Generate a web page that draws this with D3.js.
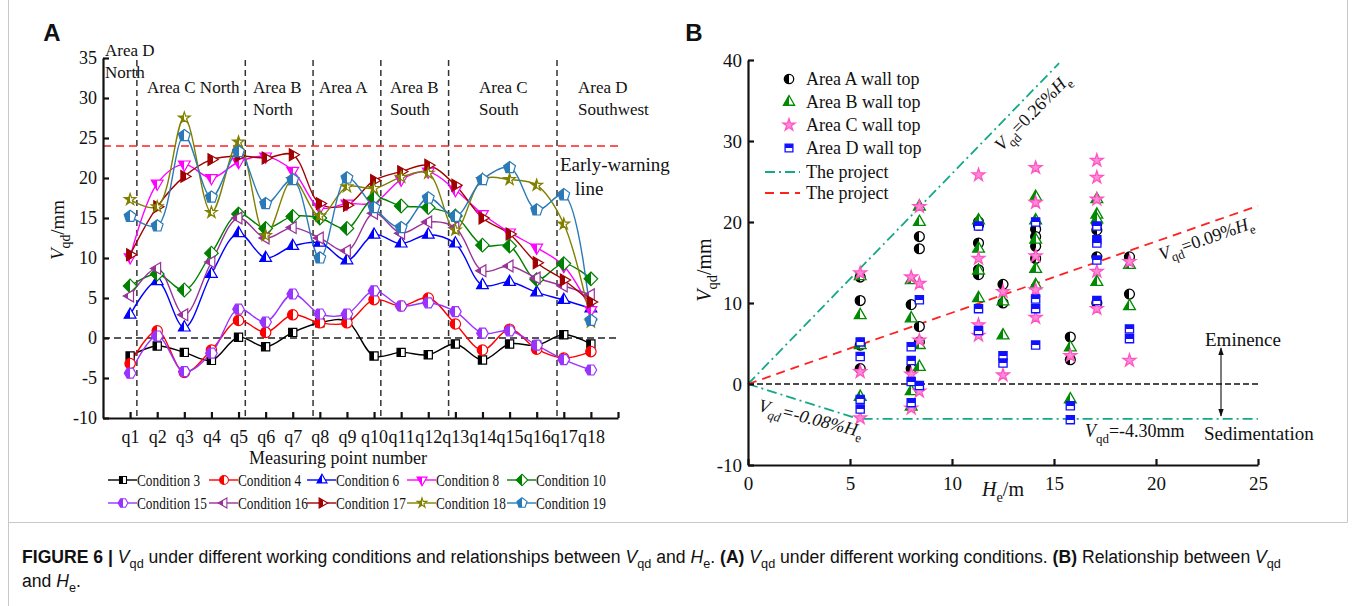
<!DOCTYPE html>
<html>
<head>
<meta charset="utf-8">
<script src="https://cdn.jsdelivr.net/npm/d3@7"></script>
<style>
  body { margin: 0; background: #fff; }
  svg text { font-family: "Liberation Serif", "Times New Roman", serif; fill: #111; }
  svg text.sans, .cap text { font-family: "Liberation Sans", Arial, sans-serif; }
</style>
</head>
<body>
<svg id="fig" width="1356" height="606"></svg>
<script>
// ---------- Panel A data ----------
const qLabels = ["q1","q2","q3","q4","q5","q6","q7","q8","q9","q10","q11","q12","q13","q14","q15","q16","q17","q18"];
const cond3  = [-2.25,-1.0,-1.8,-2.8,0.1,-1.1,0.7,1.9,2.1,-2.25,-1.8,-2.1,-0.75,-2.75,-0.75,-0.9,0.4,-0.75];
const cond4  = [-3.2,0.9,-4.3,-1.5,2.2,0.7,2.9,1.9,1.9,4.8,4.0,5.0,1.75,-1.5,1.1,-1.4,-2.5,-1.7];
const cond6  = [2.9,7.1,1.3,8.0,13.1,10.0,11.5,11.9,9.7,12.9,11.8,12.9,11.8,6.6,7.0,5.7,4.75,3.7];
const cond8  = [10.1,19.3,21.7,20.0,22.0,22.7,20.9,16.3,16.8,16.9,19.8,20.8,18.5,15.5,13.2,11.3,9.0,3.5];
const cond10 = [6.5,8.0,6.0,10.6,15.5,13.7,15.2,15.0,13.7,17.5,16.5,16.3,15.25,11.6,11.5,7.3,9.3,7.4];
const cond15 = [-4.4,0.25,-4.2,-1.9,3.6,2.0,5.5,3.0,3.0,5.9,4.0,4.4,3.3,0.6,0.9,-0.9,-2.7,-4.0];
const cond16 = [5.25,8.7,2.9,9.5,15.0,12.5,13.8,12.5,10.9,15.6,13.1,14.5,13.8,8.4,9.0,7.5,6.5,5.4];
const cond17 = [10.4,16.4,20.2,22.3,22.75,22.5,22.9,16.8,16.6,19.7,20.8,21.6,19.1,15.0,13.0,9.4,7.25,4.5];
const cond18 = [17.3,16.4,27.5,15.7,24.5,12.8,19.8,15.25,18.9,18.7,20.1,20.6,13.5,19.8,19.8,19.1,14.25,2.0];
const cond19 = [15.2,14.0,25.3,17.6,23.3,16.8,19.8,10.0,20.0,16.3,13.8,17.5,15.2,19.8,21.3,16.0,17.9,2.2];

const seriesNames  = ["Condition 3","Condition 4","Condition 6","Condition 8","Condition 10",
                      "Condition 15","Condition 16","Condition 17","Condition 18","Condition 19"];
const seriesValues = [cond3, cond4, cond6, cond8, cond10, cond15, cond16, cond17, cond18, cond19];
const seriesColors = ["#000000","#ff0000","#0000ff","#ff00ff","#008000",
                      "#9933ff","#993399","#a00000","#808000","#2a7ab9"];
const seriesShapes = ["square","circle","triUp","triDown","diamond",
                      "hexagon","triLeft","triRight","star","pentagon"];

const dividerPos = [1.25, 5.25, 7.75, 10.25, 12.75, 16.75];
const areaLabels = [["Area D","North"],["Area C North"],["Area B","North"],["Area A"],
                    ["Area B","South"],["Area C","South"],["Area D","Southwest"]];
const warningLevel = 24;

// ---------- Panel B data ----------
const areaA = [[5.5,10.3],[5.5,1.9],[5.5,4.8],[5.5,13.2],
  [8.0,9.8],[8.0,1.9],[8.4,18.2],[8.4,16.7],[8.4,7.1],[8.4,5.2],
  [11.3,20.0],[11.3,17.4],[11.3,14.1],[11.3,13.5],[11.3,19.6],
  [12.5,12.3],[12.5,10.0],
  [14.1,19.1],[14.1,17.0],[14.1,15.5],[14.1,18.2],
  [15.8,5.8],[15.8,3.0],
  [17.1,19.8],[17.1,19.0],[17.1,15.7],[17.1,10.0],
  [18.7,15.7],[18.7,11.1]];
const areaB = [[5.5,13.3],[5.5,8.5],[5.5,4.8],[5.5,-1.6],
  [8.0,12.8],[8.0,8.1],[8.0,-0.9],[8.0,-2.8],
  [8.4,21.9],[8.4,20.0],[8.4,4.8],[8.4,2.1],
  [11.3,20.2],[11.3,16.7],[11.3,14.0],[11.3,10.6],
  [12.5,10.2],[12.5,6.0],
  [14.1,23.1],[14.1,20.2],[14.1,17.8],[14.1,14.2],[14.1,12.2],
  [15.8,4.5],[15.8,-1.9],
  [17.1,22.8],[17.1,20.9],[17.1,12.6],[17.1,20.3],
  [18.7,14.7],[18.7,9.6]];
const areaC = [[5.5,13.7],[5.5,1.5],[5.5,-4.2],
  [8.0,13.2],[8.0,-3.0],[8.0,1.2],
  [8.4,21.9],[8.4,12.4],[8.4,5.4],[8.4,-0.9],
  [11.3,25.8],[11.3,15.5],[11.3,7.3],[11.3,6.0],
  [12.5,11.4],[12.5,1.1],
  [14.1,26.7],[14.1,22.4],[14.1,15.8],[14.1,11.6],[14.1,8.2],
  [15.8,3.5],
  [17.1,27.6],[17.1,25.5],[17.1,22.8],[17.1,13.9],[17.1,9.3],
  [18.7,15.1],[18.7,2.9]];
const areaD = [[5.5,5.2],[5.5,3.4],[5.5,-1.9],[5.5,-3.1],
  [8.0,4.6],[8.0,2.9],[8.0,0.3],[8.0,-2.3],
  [8.4,10.4],[8.4,-0.2],
  [11.3,19.5],[11.3,9.3],[11.3,6.6],
  [12.5,3.5],[12.5,2.6],
  [14.1,20.0],[14.1,10.5],[14.1,9.3],[14.1,4.8],
  [15.8,-2.7],[15.8,-4.4],
  [17.1,19.5],[17.1,17.8],[17.1,17.4],[17.1,15.3],[17.1,10.3],
  [18.7,6.8],[18.7,5.6]];
const areaNames = ["Area A wall top","Area B wall top","Area C wall top","Area D wall top"];

// envelope lines
const upperLine = [[0,0],[15.25,39.6]];        // 0.26% He
const trendLine = [[0,0],[25,22]];             // 0.09% He
const lowerLine = [[0,0],[5.4,-4.3],[25,-4.3]]; // -0.08% He, then -4.30 mm

const svg = d3.select("#fig");
const defs = svg.append("defs");

// ---------- helpers ----------
function poly(n, r, startDeg) {
  let pts = d3.range(n).map(i => {
    let a = (startDeg + i * 360 / n) * Math.PI / 180;
    return [r * Math.cos(a), r * Math.sin(a)];
  });
  return "M" + pts.map(p => p[0].toFixed(2) + "," + p[1].toFixed(2)).join("L") + "Z";
}
function shapePath(shape, s) {
  s = s || 1;
  switch (shape) {
    case "square":   return poly(4, 5.8 * s, 45);
    case "circle":   return d3.symbol(d3.symbolCircle, 85 * s * s)();
    case "triUp":    return poly(3, 6.8 * s, -90);
    case "triDown":  return poly(3, 6.8 * s, 90);
    case "diamond":  return poly(4, 6.8 * s, -90);
    case "hexagon":  return poly(6, 5.8 * s, 0);
    case "triLeft":  return poly(3, 6.8 * s, 180);
    case "triRight": return poly(3, 6.8 * s, 0);
    case "star":     return d3.symbol(d3.symbolStar, 42 * s * s)();
    case "pentagon": return poly(5, 6.2 * s, -90);
  }
}
function halfGrad(id, color, vertical) {
  let g = defs.append("linearGradient").attr("id", id)
    .attr("x1", 0).attr("y1", 0)
    .attr("x2", vertical ? 0 : 1).attr("y2", vertical ? 1 : 0);
  g.append("stop").attr("offset", "0%").attr("stop-color", color);
  g.append("stop").attr("offset", "50%").attr("stop-color", color);
  g.append("stop").attr("offset", "50%").attr("stop-color", "#fff");
  g.append("stop").attr("offset", "100%").attr("stop-color", "#fff");
}
// text with italic / subscript parts: [["V","i"],["qd","sub"],["/mm",""]]
function rich(sel, parts, size) {
  let sub = false;
  parts.forEach(p => {
    let t = sel.append("tspan").text(p[0]);
    let isSub = p[1].indexOf("sub") >= 0;
    if (p[1].indexOf("i") === 0) t.attr("font-style", "italic");
    if (isSub && !sub) t.attr("dy", size * 0.3);
    if (!isSub && sub) t.attr("dy", -size * 0.3);
    if (isSub) t.attr("font-size", size * 0.72);
    sub = isSub;
  });
  return sel;
}

// ---------- frame ----------
svg.append("path")
  .attr("d", "M8.5,0 V606 M8.5,522.5 H1347.5 M1347.5,0 V522.5")
  .attr("fill", "none").attr("stroke", "#c8c8c8").attr("stroke-width", 1);

// ================= PANEL A =================
const xA = d3.scaleLinear().domain([0, 19]).range([103, 618]);
const yA = d3.scaleLinear().domain([-10, 35]).range([418, 58]);
const gA = svg.append("g");

seriesColors.forEach((c, i) => halfGrad("ha" + i, c, false));

// divider lines
gA.selectAll(".div").data(dividerPos).enter().append("line")
  .attr("x1", d => xA(d)).attr("x2", d => xA(d))
  .attr("y1", 60).attr("y2", yA(-10))
  .attr("stroke", "#333").attr("stroke-width", 1.5).attr("stroke-dasharray", "6,4");

// zero line and early warning line
gA.append("line").attr("x1", xA(0)).attr("x2", xA(19))
  .attr("y1", yA(0)).attr("y2", yA(0))
  .attr("stroke", "#222").attr("stroke-width", 1.3).attr("stroke-dasharray", "7,4");
gA.append("line").attr("x1", xA(0)).attr("x2", xA(19))
  .attr("y1", yA(warningLevel)).attr("y2", yA(warningLevel))
  .attr("stroke", "#ff2020").attr("stroke-width", 1.5).attr("stroke-dasharray", "8,5");

// area labels
const areaLabelX = [105, 147, 253, 319, 390, 479, 578];
const areaLabelY = [50, 87, 87, 87, 87, 87, 87];
areaLabels.forEach((lines, i) => {
  lines.forEach((t, j) => {
    gA.append("text").attr("x", areaLabelX[i]).attr("y", areaLabelY[i] + j * 22)
      .attr("dy", "0.35em").attr("font-size", 17).text(t);
  });
});
gA.append("text").attr("x", 560).attr("y", 164).attr("dy", "0.35em")
  .attr("font-size", 19).text("Early-warning");
gA.append("text").attr("x", 575).attr("y", 188).attr("dy", "0.35em")
  .attr("font-size", 19).text("line");

// series lines
const lineA = d3.line().x((d, i) => xA(i + 1)).y(d => yA(d))
  .curve(d3.curveCatmullRom.alpha(0.5));
seriesValues.forEach((vals, k) => {
  gA.append("path").attr("d", lineA(vals)).attr("fill", "none")
    .attr("stroke", seriesColors[k]).attr("stroke-width", 1.4);
});
seriesValues.forEach((vals, k) => {
  gA.selectAll(".m" + k).data(vals).enter().append("path")
    .attr("transform", (d, i) => `translate(${xA(i + 1)},${yA(d)})`)
    .attr("d", shapePath(seriesShapes[k]))
    .attr("fill", `url(#ha${k})`).attr("stroke", seriesColors[k]).attr("stroke-width", 1.2);
});

// axes
const axAx = d3.axisBottom(xA).tickValues(d3.range(1, 20))
  .tickFormat(d => d < 19 ? qLabels[d - 1] : "")
  .tickSizeInner(-6).tickSizeOuter(0).tickPadding(12);
const axAy = d3.axisLeft(yA).tickValues(d3.range(-10, 36, 5))
  .tickFormat(d => String(d))
  .tickSizeInner(-6).tickSizeOuter(0).tickPadding(6);
const gAx = gA.append("g").attr("transform", `translate(0,${yA(-10)})`).call(axAx);
const gAy = gA.append("g").attr("transform", `translate(${xA(0)},0)`).call(axAy);
[gAx, gAy].forEach(g => {
  g.selectAll("path,line").attr("stroke", "#111").attr("stroke-width", 2.2);
  g.selectAll("text").attr("font-size", 18).style("font-family", "Liberation Serif").attr("fill", "#111");
});

// axis titles
gA.append("text").attr("x", 338).attr("y", 458).attr("dy", "0.35em")
  .attr("text-anchor", "middle").attr("font-size", 18).text("Measuring point number");
rich(gA.append("text").attr("transform", "translate(64,230) rotate(-90)")
  .attr("text-anchor", "middle").attr("font-size", 19),
  [["V", "i"], ["qd", "sub"], ["/mm", ""]], 19);

gA.append("text").attr("class", "sans").attr("x", 52).attr("y", 33).attr("dy", "0.35em")
  .attr("text-anchor", "middle").attr("font-size", 24).attr("font-weight", "bold").text("A");

// legend A
const legColX = [108, 209, 307, 407, 507];
const legRowY = [480, 503];
seriesNames.forEach((name, k) => {
  let x = legColX[k % 5], y = legRowY[Math.floor(k / 5)];
  let g = gA.append("g").attr("transform", `translate(${x},${y})`);
  g.append("line").attr("x1", 0).attr("x2", 29).attr("stroke", seriesColors[k]).attr("stroke-width", 1.4);
  g.append("path").attr("transform", "translate(15,0)").attr("d", shapePath(seriesShapes[k], 0.85))
    .attr("fill", `url(#ha${k})`).attr("stroke", seriesColors[k]).attr("stroke-width", 1.1);
  g.append("text").attr("transform", "translate(29,0) scale(0.76,1)")
    .attr("dy", "0.35em").attr("font-size", 17.5).text(name);
});

// ================= PANEL B =================
const xB = d3.scaleLinear().domain([0, 25]).range([748, 1258]);
const yB = d3.scaleLinear().domain([-10, 40]).range([465, 60]);
const gB = svg.append("g");

const areaColors = ["#000000", "#008a00", "#ff55c4", "#1010ff"];
halfGrad("hbA", areaColors[0], false);
halfGrad("hbB", areaColors[1], false);
halfGrad("hbD", areaColors[3], true);
const areaFill = ["url(#hbA)", "url(#hbB)", "#ff8ad6", "url(#hbD)"];
const areaShape = ["circle", "triUp", "star", "square"];
const areaScale = [0.95, 1.0, 1.1, 1.0];
const areaData = [areaA, areaB, areaC, areaD];

// reference lines
const lineB = d3.line().x(d => xB(d[0])).y(d => yB(d[1]));
gB.append("line").attr("x1", xB(0)).attr("x2", xB(25)).attr("y1", yB(0)).attr("y2", yB(0))
  .attr("stroke", "#111").attr("stroke-width", 1.4).attr("stroke-dasharray", "6,3");
gB.append("path").attr("d", lineB(upperLine)).attr("fill", "none")
  .attr("stroke", "#14a887").attr("stroke-width", 1.8).attr("stroke-dasharray", "10,4,2,4");
gB.append("path").attr("d", lineB(lowerLine)).attr("fill", "none")
  .attr("stroke", "#14a887").attr("stroke-width", 1.8).attr("stroke-dasharray", "10,4,2,4");
gB.append("path").attr("d", lineB(trendLine)).attr("fill", "none")
  .attr("stroke", "#ff2020").attr("stroke-width", 1.8).attr("stroke-dasharray", "9,6");

// scatter
areaData.forEach((pts, k) => {
  gB.selectAll(".s" + k).data(pts).enter().append("path")
    .attr("transform", d => `translate(${xB(d[0])},${yB(d[1])})`)
    .attr("d", shapePath(areaShape[k], areaScale[k]))
    .attr("fill", areaFill[k]).attr("stroke", areaColors[k]).attr("stroke-width", 1.3);
});

// axes
const axBx = d3.axisBottom(xB).tickValues(d3.range(0, 26, 5))
  .tickSizeInner(-6).tickSizeOuter(0).tickPadding(12);
const axBy = d3.axisLeft(yB).tickValues(d3.range(-10, 41, 10))
  .tickFormat(d => String(d))
  .tickSizeInner(-6).tickSizeOuter(0).tickPadding(6);
const gBx = gB.append("g").attr("transform", `translate(0,${yB(-10)})`).call(axBx);
const gBy = gB.append("g").attr("transform", `translate(${xB(0)},0)`).call(axBy);
[gBx, gBy].forEach(g => {
  g.selectAll("path,line").attr("stroke", "#111").attr("stroke-width", 2.2);
  g.selectAll("text").attr("font-size", 19).style("font-family", "Liberation Serif").attr("fill", "#111");
});

rich(gB.append("text").attr("transform", "translate(711,270) rotate(-90)")
  .attr("text-anchor", "middle").attr("font-size", 20),
  [["V", "i"], ["qd", "sub"], ["/mm", ""]], 20);
rich(gB.append("text").attr("x", 1003).attr("y", 496).attr("text-anchor", "middle").attr("font-size", 20),
  [["H", "i"], ["e", "sub"], ["/m", ""]], 20);

gB.append("text").attr("class", "sans").attr("x", 694).attr("y", 33).attr("dy", "0.35em")
  .attr("text-anchor", "middle").attr("font-size", 24).attr("font-weight", "bold").text("B");

// annotations on lines
rich(gB.append("text").attr("transform", "translate(1032,112) rotate(-45.5)")
  .attr("text-anchor", "middle").attr("font-size", 18).attr("dy", "0.35em"),
  [["V", "i"], ["qd", "sub"], ["=0.26%", ""], ["H", "i"], ["e", "sub"]], 18);
rich(gB.append("text").attr("transform", "translate(1206,238) rotate(-19.3)")
  .attr("text-anchor", "middle").attr("font-size", 18).attr("dy", "0.35em"),
  [["V", "i"], ["qd", "sub"], ["=0.09%", ""], ["H", "i"], ["e", "sub"]], 18);
rich(gB.append("text").attr("transform", "translate(811,418) rotate(14.3)")
  .attr("text-anchor", "middle").attr("font-size", 18).attr("dy", "0.35em"),
  [["V", "i"], ["qd", "isub"], ["=-0.08%", "i"], ["H", "i"], ["e", "sub"]], 18);
rich(gB.append("text").attr("x", 1085).attr("y", 432).attr("dy", "0.3em").attr("font-size", 18),
  [["V", "i"], ["qd", "sub"], ["=-4.30mm", ""]], 18);

gB.append("text").attr("x", 1205).attr("y", 339).attr("dy", "0.35em").attr("font-size", 19).text("Eminence");
gB.append("text").attr("x", 1204).attr("y", 433).attr("dy", "0.35em").attr("font-size", 19).text("Sedimentation");
const arr = defs.append("marker").attr("id", "ah").attr("viewBox", "0 0 10 10")
  .attr("refX", 9).attr("refY", 5).attr("markerWidth", 7).attr("markerHeight", 7)
  .attr("orient", "auto-start-reverse");
arr.append("path").attr("d", "M0,1.5 L10,5 L0,8.5 Z").attr("fill", "#111");
gB.append("line").attr("x1", 1221).attr("x2", 1221).attr("y1", 348).attr("y2", 416)
  .attr("stroke", "#111").attr("stroke-width", 1.1)
  .attr("marker-start", "url(#ah)").attr("marker-end", "url(#ah)");

// legend B
const legBRows = [79, 102, 125, 148, 172, 193];
areaNames.forEach((name, k) => {
  let y = legBRows[k];
  gB.append("path").attr("transform", `translate(789,${y})`)
    .attr("d", shapePath(areaShape[k], areaScale[k] * 0.95))
    .attr("fill", areaFill[k]).attr("stroke", areaColors[k]).attr("stroke-width", 1.3);
  gB.append("text").attr("x", 806).attr("y", y).attr("dy", "0.35em").attr("font-size", 18).text(name);
});
[["#14a887", "10,4,2,4"], ["#ff2020", "9,6"]].forEach((s, k) => {
  let y = legBRows[4 + k];
  gB.append("line").attr("x1", 765).attr("x2", 800).attr("y1", y).attr("y2", y)
    .attr("stroke", s[0]).attr("stroke-width", 1.8).attr("stroke-dasharray", s[1]);
  gB.append("text").attr("x", 806).attr("y", y).attr("dy", "0.35em").attr("font-size", 18).text("The project");
});

// ================= CAPTION =================
const cap = svg.append("g").attr("class", "cap");
let c1 = cap.append("text").attr("x", 22).attr("y", 563).attr("font-size", 17.6);
rich(c1, [["FIGURE 6 | ", ""]], 17.6);
c1.select("tspan").attr("font-weight", "bold");
rich(c1, [["V", "i"], ["qd", "sub"], [" under different working conditions and relationships between ", ""],
  ["V", "i"], ["qd", "sub"], [" and ", ""], ["H", "i"], ["e", "sub"], [".", ""]], 17.6);
c1.append("tspan").attr("font-weight", "bold").text(" (A) ");
rich(c1, [["V", "i"], ["qd", "sub"], [" under different working conditions.", ""]], 17.6);
c1.append("tspan").attr("font-weight", "bold").text(" (B) ");
rich(c1, [["Relationship between ", ""], ["V", "i"], ["qd", "sub"]], 17.6);
let c2 = cap.append("text").attr("x", 22).attr("y", 587).attr("font-size", 17.6);
rich(c2, [["and ", ""], ["H", "i"], ["e", "sub"], [".", ""]], 17.6);
</script>
</body>
</html>
